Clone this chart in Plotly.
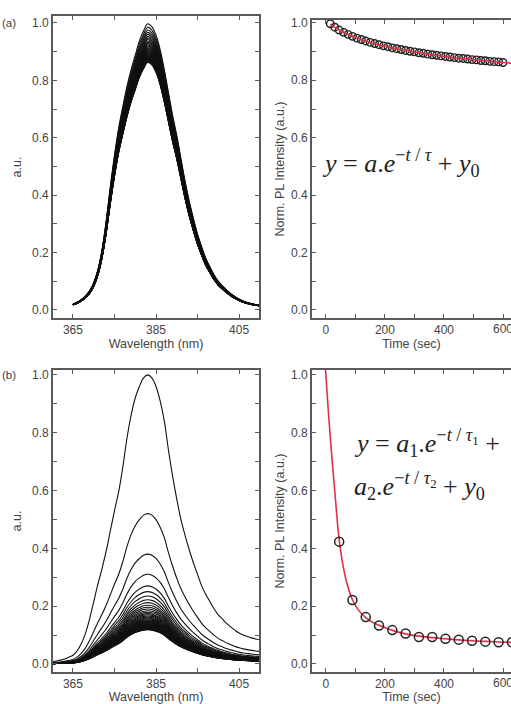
import plotly.graph_objects as go

# ---------------- data ----------------
# (a) normalised spectral profile, 1 nm grid
wl_a = list(range(365, 411))
shape_a = [0.02, 0.027, 0.036, 0.049, 0.067, 0.095, 0.14, 0.21, 0.31, 0.43,
           0.54, 0.635, 0.71, 0.78, 0.84, 0.89, 0.94, 0.975, 1.0, 0.99,
           0.96, 0.91, 0.84, 0.76, 0.68, 0.61, 0.53, 0.45, 0.38, 0.32,
           0.265, 0.22, 0.18, 0.15, 0.122, 0.10, 0.084, 0.07, 0.057, 0.047,
           0.038, 0.031, 0.026, 0.022, 0.019, 0.017]

# (a) time series of normalised PL intensity (markers) - also the spectra peaks
time_a = list(range(15, 601, 15))
pl_a = [0.997, 0.985, 0.975, 0.967, 0.960, 0.953, 0.947, 0.942, 0.937, 0.932,
        0.928, 0.924, 0.920, 0.917, 0.913, 0.910, 0.907, 0.904, 0.901, 0.899,
        0.896, 0.894, 0.891, 0.889, 0.887, 0.885, 0.883, 0.881, 0.879, 0.877,
        0.876, 0.874, 0.872, 0.871, 0.869, 0.868, 0.866, 0.865, 0.864, 0.862]
fit_t_a = [15, 60, 120, 180, 240, 300, 360, 420, 480, 540, 600, 640]
fit_y_a = [0.995, 0.967, 0.942, 0.924, 0.910, 0.899, 0.889, 0.881, 0.874, 0.868, 0.862, 0.859]

# (b) normalised spectral profile, 1 nm grid
wl_b = list(range(360, 411))
shape_b = [0.008, 0.01, 0.013, 0.017, 0.023, 0.03, 0.045, 0.07, 0.105, 0.155,
           0.215, 0.275, 0.33, 0.39, 0.46, 0.53, 0.595, 0.68, 0.78, 0.86,
           0.92, 0.96, 0.99, 1.0, 0.99, 0.96, 0.91, 0.84, 0.74, 0.65,
           0.57, 0.50, 0.445, 0.395, 0.35, 0.31, 0.27, 0.24, 0.215, 0.19,
           0.17, 0.155, 0.14, 0.128, 0.117, 0.107, 0.10, 0.095, 0.09, 0.086,
           0.083]
peaks_b = [1.0, 0.52, 0.38, 0.31, 0.27, 0.25, 0.235, 0.222, 0.212, 0.203,
           0.196, 0.19, 0.184, 0.179, 0.174, 0.17, 0.166, 0.162, 0.159, 0.156,
           0.153, 0.15, 0.148, 0.146, 0.144, 0.142, 0.14, 0.138, 0.136, 0.134,
           0.132, 0.131, 0.13, 0.128, 0.127, 0.126, 0.124, 0.123, 0.122, 0.12,
           0.119, 0.118]

# (b) time series (markers) and bi-exponential fit
time_b = [45, 90, 135, 180, 225, 270, 315, 360, 405, 450, 495, 540, 585, 630]
pl_b = [0.423, 0.221, 0.162, 0.133, 0.117, 0.105, 0.093, 0.093, 0.087, 0.084,
        0.080, 0.077, 0.075, 0.075]
fit_t_b = [-8, 0, 10, 20, 30, 45, 60, 75, 90, 110, 135, 160, 180, 225, 270,
           315, 360, 405, 450, 495, 540, 585, 640]
fit_y_b = [1.12, 1.0, 0.85, 0.72, 0.60, 0.43, 0.33, 0.265, 0.222, 0.187, 0.160,
           0.143, 0.134, 0.116, 0.104, 0.096, 0.091, 0.087, 0.083, 0.080, 0.078,
           0.076, 0.074]

x_ticks_wl = [365, 385, 405]
x_ticks_t = [0, 200, 400, 600]
x_ticktext_t = ["0", "200", "400", ""]   # last label drawn separately (it runs off the edge)
edge_label_t = 600

# ---------------- figure ----------------
W, H = 511, 704
fig = go.Figure()

LINE = "#111111"
RED = "#e03048"
AX = "#5a5a5a"
FONT = "Liberation Sans, Arial, sans-serif"

# (a) spectra
for p in pl_a:
    fig.add_trace(go.Scatter(x=wl_a, y=[s * p for s in shape_a], mode="lines",
                             line=dict(color=LINE, width=1.1, shape="spline"),
                             xaxis="x", yaxis="y", showlegend=False, hoverinfo="skip"))
# (a) decay
fig.add_trace(go.Scatter(x=time_a, y=pl_a, mode="markers",
                         marker=dict(symbol="circle-open", size=7.5, color="#222",
                                     line=dict(width=1.4, color="#222")),
                         xaxis="x2", yaxis="y2", showlegend=False))
fig.add_trace(go.Scatter(x=fit_t_a, y=fit_y_a, mode="lines",
                         line=dict(color=RED, width=1.6, shape="spline"),
                         xaxis="x2", yaxis="y2", showlegend=False))
# (b) spectra
for p in peaks_b:
    fig.add_trace(go.Scatter(x=wl_b, y=[s * p for s in shape_b], mode="lines",
                             line=dict(color=LINE, width=1.1, shape="spline"),
                             xaxis="x3", yaxis="y3", showlegend=False, hoverinfo="skip"))
# (b) decay
fig.add_trace(go.Scatter(x=fit_t_b, y=fit_y_b, mode="lines",
                         line=dict(color=RED, width=1.6, shape="spline"),
                         xaxis="x4", yaxis="y4", showlegend=False))
fig.add_trace(go.Scatter(x=time_b, y=pl_b, mode="markers",
                         marker=dict(symbol="circle-open", size=9, color="#222",
                                     line=dict(width=1.5, color="#222")),
                         xaxis="x4", yaxis="y4", showlegend=False))

xl, xr = 53 / W, 259 / W
x2l = 312 / W
ya = [1 - 318 / H, 1 - 16 / H]
ya2 = [1 - 318 / H, 1 - 20 / H]
yb = [1 - 672 / H, 1 - 370 / H]

tickfont = dict(family=FONT, size=12, color="#444")
titlefont = dict(family=FONT, size=12.5, color="#444")


def xax(domain, rng, tickvals, ticktext, minor_dtick, minor_tick0, title, anchor):
    return dict(domain=domain, range=rng, anchor=anchor, tickvals=tickvals,
                ticktext=ticktext,
                ticks="inside", ticklen=4, tickwidth=1.2, tickcolor=AX,
                minor=dict(dtick=minor_dtick, tick0=minor_tick0, ticks="inside",
                           ticklen=4, tickwidth=1.2, tickcolor=AX),
                showline=True, linecolor=AX, linewidth=1.6, mirror="ticks",
                showgrid=False, zeroline=False, tickfont=tickfont,
                title=dict(text=title, font=titlefont, standoff=1),
                automargin=False)


def yax(domain, rng, title, anchor, mirror, standoff):
    return dict(domain=domain, range=rng, anchor=anchor,
                tickvals=[0, 0.2, 0.4, 0.6, 0.8, 1.0], tickformat=".1f",
                ticks="inside", ticklen=4, tickwidth=1.2, tickcolor=AX,
                minor=dict(dtick=0.1, tick0=0, ticks="inside", ticklen=4,
                           tickwidth=1.2, tickcolor=AX),
                showline=True, linecolor=AX, linewidth=1.6, mirror=mirror,
                showgrid=False, zeroline=False, tickfont=tickfont,
                title=dict(text=title, font=titlefont, standoff=standoff),
                automargin=False)


fig.update_layout(
    width=W, height=H, margin=dict(l=0, r=0, t=0, b=0),
    paper_bgcolor="white", plot_bgcolor="white", showlegend=False,
    xaxis=xax([xl, xr], [360.2, 409.8], x_ticks_wl, [str(v) for v in x_ticks_wl], 10, 365, "Wavelength (nm)", "y"),
    yaxis=yax(ya, [-0.028, 1.024], "a.u.", "x", "ticks", 8),
    xaxis2=xax([x2l, 1.0], [-47, 627], x_ticks_t, x_ticktext_t, 100, 0, "Time (sec)", "y2"),
    yaxis2=yax(ya2, [-0.028, 1.01], "Norm. PL Intensity (a.u.)", "x2", False, 4),
    xaxis3=xax([xl, xr], [360.2, 409.8], x_ticks_wl, [str(v) for v in x_ticks_wl], 10, 365, "Wavelength (nm)", "y3"),
    yaxis3=yax(yb, [-0.028, 1.017], "a.u.", "x3", "ticks", 8),
    xaxis4=xax([x2l, 1.0], [-47, 627], x_ticks_t, x_ticktext_t, 100, 0, "Time (sec)", "y4"),
    yaxis4=yax(yb, [-0.028, 1.017], "Norm. PL Intensity (a.u.)", "x4", False, 4),
)

SERIF = "Liberation Serif, Times New Roman, serif"
ann = [
    dict(text="(a)", x=0.0, y=1 - 23 / H, xref="paper", yref="paper",
         xanchor="left", yanchor="middle",
         font=dict(family=FONT, size=11.5, color="#444")),
    dict(text="(b)", x=0.0, y=1 - 375 / H, xref="paper", yref="paper",
         xanchor="left", yanchor="middle",
         font=dict(family=FONT, size=11.5, color="#444")),
    # edge tick labels of the time axes
    dict(text=str(edge_label_t), x=edge_label_t, y=1 - 329 / H, xref="x2", yref="paper",
         xanchor="center", yanchor="middle", font=tickfont),
    dict(text=str(edge_label_t), x=edge_label_t, y=1 - 683 / H, xref="x4", yref="paper",
         xanchor="center", yanchor="middle", font=tickfont),
    dict(text="<i>y</i> = <i>a</i>.<i>e</i><sup>\u2212<i>t</i> / <i>\u03c4</i></sup> + <i>y</i><sub>0</sub>",
         x=401 / W, y=1 - 163 / H, xref="paper", yref="paper",
         xanchor="center", yanchor="middle",
         font=dict(family=SERIF, size=26, color="#222")),
    dict(text="<i>y</i> = <i>a</i><sub>1</sub>.<i>e</i><sup>\u2212<i>t</i> / <i>\u03c4</i><sub>1</sub></sup> +",
         x=352 / W, y=1 - 443 / H, xref="paper", yref="paper",
         xanchor="left", yanchor="middle",
         font=dict(family=SERIF, size=26, color="#222")),
    dict(text="<i>a</i><sub>2</sub>.<i>e</i><sup>\u2212<i>t</i> / <i>\u03c4</i><sub>2</sub></sup> + <i>y</i><sub>0</sub>",
         x=352 / W, y=1 - 486 / H, xref="paper", yref="paper",
         xanchor="left", yanchor="middle",
         font=dict(family=SERIF, size=26, color="#222")),
]
for a in ann:
    a.update(showarrow=False)
fig.update_layout(annotations=ann)

fig.write_html("out.html", config={"displayModeBar": False},
               post_script="document.body.style.margin='0px';document.body.style.overflow='hidden';")
